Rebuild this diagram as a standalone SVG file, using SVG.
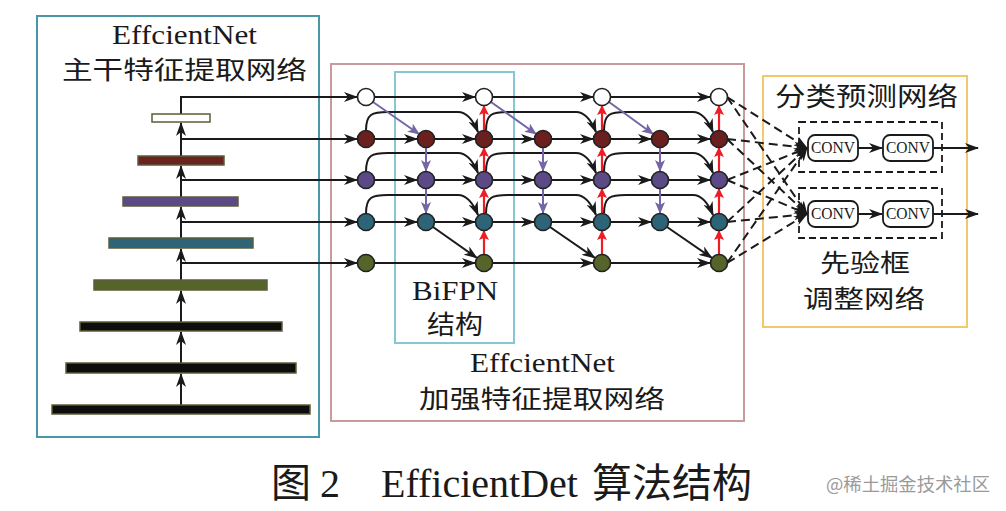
<svg xmlns="http://www.w3.org/2000/svg" width="1006" height="511" viewBox="0 0 1006 511">
<style>
.serif{font-family:"Liberation Serif","Noto Sans CJK SC",serif;fill:#1a1a1a}
.cjk{font-family:"Noto Sans CJK SC","Liberation Sans",sans-serif;fill:#1a1a1a}
.ln{fill:none;stroke:#1a1a1a;stroke-width:2}
.pl{fill:none;stroke:#7466a6;stroke-width:2}
.rl{fill:none;stroke:#ee1c24;stroke-width:2.2}
.dl{fill:none;stroke:#1a1a1a;stroke-width:2;stroke-dasharray:9,5}
.nw{fill:#fff;stroke:#222;stroke-width:1.6}
.nr{fill:#6b1f1f;stroke:#222;stroke-width:1.6}
.np{fill:#5b4a85;stroke:#222;stroke-width:1.6}
.nt{fill:#2e6477;stroke:#222;stroke-width:1.6}
.no{fill:#55652a;stroke:#222;stroke-width:1.6}
.bar{stroke:#5c5c3a;stroke-width:1.5}
</style>
<defs>
<marker id="ab" markerUnits="userSpaceOnUse" viewBox="0 0 14 10" markerWidth="14" markerHeight="10" refX="13" refY="5" orient="auto"><path d="M0,0 L14,5 L0,10 L4,5 z" fill="#1a1a1a"/></marker>
<marker id="ap" markerUnits="userSpaceOnUse" viewBox="0 0 12 10" markerWidth="12" markerHeight="10" refX="11" refY="5" orient="auto"><path d="M0,0 L12,5 L0,10 L3,5 z" fill="#7466a6"/></marker>
<marker id="ar" markerUnits="userSpaceOnUse" viewBox="0 0 10 10" markerWidth="10" markerHeight="10" refX="9" refY="5" orient="auto"><path d="M0,0 L10,5 L0,10 L2,5 z" fill="#ee1c24"/></marker>
</defs>

<!-- panels -->
<g id="backbone-panel">
<rect x="37" y="16" width="282" height="421" fill="none" stroke="#4b97aa" stroke-width="2"/>
<text class="serif" x="112" y="44" font-size="27" textLength="145" lengthAdjust="spacingAndGlyphs">EffcientNet</text>
<text class="cjk" x="62" y="79" font-size="25" textLength="245" lengthAdjust="spacingAndGlyphs">主干特征提取网络</text>
</g>
<g id="bifpn-panel">
<rect x="331" y="64" width="413" height="357" fill="none" stroke="#c99a9c" stroke-width="2"/>
<rect x="395" y="72" width="119" height="271" fill="none" stroke="#84c8d4" stroke-width="2"/>
<text class="serif" x="412" y="300" font-size="28" textLength="86" lengthAdjust="spacingAndGlyphs">BiFPN</text>
<text class="cjk" x="427" y="334" font-size="26" textLength="56" lengthAdjust="spacingAndGlyphs">结构</text>
<text class="serif" x="470" y="372" font-size="27" textLength="145" lengthAdjust="spacingAndGlyphs">EffcientNet</text>
<text class="cjk" x="419" y="408" font-size="25" textLength="246" lengthAdjust="spacingAndGlyphs">加强特征提取网络</text>
</g>
<g id="head-panel">
<rect x="763" y="76" width="204" height="251" fill="none" stroke="#f2c86e" stroke-width="2"/>
<text class="cjk" x="775" y="106" font-size="26" textLength="183" lengthAdjust="spacingAndGlyphs">分类预测网络</text>
<text class="cjk" x="820" y="272" font-size="25" textLength="90" lengthAdjust="spacingAndGlyphs">先验框</text>
<text class="cjk" x="803" y="308" font-size="25" textLength="122" lengthAdjust="spacingAndGlyphs">调整网络</text>
<rect x="799" y="122" width="143" height="50" fill="none" stroke="#1a1a1a" stroke-width="1.8" stroke-dasharray="7,4"/>
<rect x="799" y="188" width="143" height="50" fill="none" stroke="#1a1a1a" stroke-width="1.8" stroke-dasharray="7,4"/>
</g>

<!-- connectors -->
<g id="connectors">
<path class="ln" d="M181,405 L181,374" marker-end="url(#ab)"/>
<path class="ln" d="M181,363 L181,332" marker-end="url(#ab)"/>
<path class="ln" d="M181,322 L181,291" marker-end="url(#ab)"/>
<path class="ln" d="M181,280 L181,249" marker-end="url(#ab)"/>
<path class="ln" d="M181,238 L181,207" marker-end="url(#ab)"/>
<path class="ln" d="M181,197 L181,166" marker-end="url(#ab)"/>
<path class="ln" d="M181,156 L181,123" marker-end="url(#ab)"/>
<path class="ln" d="M181,114 L181,97 L357,97" marker-end="url(#ab)"/>
<path class="ln" d="M181,139 L357,139" marker-end="url(#ab)"/>
<path class="ln" d="M181,180 L357,180" marker-end="url(#ab)"/>
<path class="ln" d="M181,222 L357,222" marker-end="url(#ab)"/>
<path class="ln" d="M181,263 L357,263" marker-end="url(#ab)"/>
<path class="ln" d="M374.5,97 L475,97" marker-end="url(#ab)"/>
<path class="ln" d="M492.5,97 L593,97" marker-end="url(#ab)"/>
<path class="ln" d="M610.5,97 L710,97" marker-end="url(#ab)"/>
<path class="ln" d="M374.5,139 L417,139" marker-end="url(#ab)"/>
<path class="ln" d="M434.5,139 L475,139" marker-end="url(#ab)"/>
<path class="ln" d="M492.5,139 L534,139" marker-end="url(#ab)"/>
<path class="ln" d="M551.5,139 L593,139" marker-end="url(#ab)"/>
<path class="ln" d="M610.5,139 L651,139" marker-end="url(#ab)"/>
<path class="ln" d="M668.5,139 L710,139" marker-end="url(#ab)"/>
<path class="ln" d="M374.5,180 L417,180" marker-end="url(#ab)"/>
<path class="ln" d="M434.5,180 L475,180" marker-end="url(#ab)"/>
<path class="ln" d="M492.5,180 L534,180" marker-end="url(#ab)"/>
<path class="ln" d="M551.5,180 L593,180" marker-end="url(#ab)"/>
<path class="ln" d="M610.5,180 L651,180" marker-end="url(#ab)"/>
<path class="ln" d="M668.5,180 L710,180" marker-end="url(#ab)"/>
<path class="ln" d="M374.5,222 L417,222" marker-end="url(#ab)"/>
<path class="ln" d="M434.5,222 L475,222" marker-end="url(#ab)"/>
<path class="ln" d="M492.5,222 L534,222" marker-end="url(#ab)"/>
<path class="ln" d="M551.5,222 L593,222" marker-end="url(#ab)"/>
<path class="ln" d="M610.5,222 L651,222" marker-end="url(#ab)"/>
<path class="ln" d="M668.5,222 L710,222" marker-end="url(#ab)"/>
<path class="ln" d="M374.5,263 L475,263" marker-end="url(#ab)"/>
<path class="ln" d="M492.5,263 L593,263" marker-end="url(#ab)"/>
<path class="ln" d="M610.5,263 L710,263" marker-end="url(#ab)"/>
<path class="ln" d="M366,130.5 C366,114 372,112 388,112 L458,112 C466,112 473,120 478,132" marker-end="url(#ab)"/>
<path class="ln" d="M486,130.5 C486,114 492,112 508,112 L576,112 C584,112 591,120 596,132" marker-end="url(#ab)"/>
<path class="ln" d="M604,130.5 C604,114 610,112 626,112 L693,112 C701,112 708,120 713,132" marker-end="url(#ab)"/>
<path class="ln" d="M366,171.5 C366,155 372,153 388,153 L458,153 C466,153 473,161 478,173" marker-end="url(#ab)"/>
<path class="ln" d="M486,171.5 C486,155 492,153 508,153 L576,153 C584,153 591,161 596,173" marker-end="url(#ab)"/>
<path class="ln" d="M604,171.5 C604,155 610,153 626,153 L693,153 C701,153 708,161 713,173" marker-end="url(#ab)"/>
<path class="ln" d="M366,213.5 C366,197 372,195 388,195 L458,195 C466,195 473,203 478,215" marker-end="url(#ab)"/>
<path class="ln" d="M486,213.5 C486,197 492,195 508,195 L576,195 C584,195 591,203 596,215" marker-end="url(#ab)"/>
<path class="ln" d="M604,213.5 C604,197 610,195 626,195 L693,195 C701,195 708,203 713,215" marker-end="url(#ab)"/>
<path class="pl" d="M373,102 L419,134" marker-end="url(#ap)"/>
<path class="pl" d="M491,102 L536,134" marker-end="url(#ap)"/>
<path class="pl" d="M609,102 L653,134" marker-end="url(#ap)"/>
<path class="pl" d="M426,147.5 L426,171" marker-end="url(#ap)"/>
<path class="pl" d="M426,188.5 L426,213" marker-end="url(#ap)"/>
<path class="pl" d="M543,147.5 L543,171" marker-end="url(#ap)"/>
<path class="pl" d="M543,188.5 L543,213" marker-end="url(#ap)"/>
<path class="pl" d="M660,147.5 L660,171" marker-end="url(#ap)"/>
<path class="pl" d="M660,188.5 L660,213" marker-end="url(#ap)"/>
<path class="ln" d="M433,227 L477,258" marker-end="url(#ab)"/>
<path class="ln" d="M550,227 L595,258" marker-end="url(#ab)"/>
<path class="ln" d="M667,227 L712,258" marker-end="url(#ab)"/>
<path class="rl" d="M484,254.5 L484,231" marker-end="url(#ar)"/>
<path class="rl" d="M484,213.5 L484,189" marker-end="url(#ar)"/>
<path class="rl" d="M484,171.5 L484,148" marker-end="url(#ar)"/>
<path class="rl" d="M484,130.5 L484,106" marker-end="url(#ar)"/>
<path class="rl" d="M602,254.5 L602,231" marker-end="url(#ar)"/>
<path class="rl" d="M602,213.5 L602,189" marker-end="url(#ar)"/>
<path class="rl" d="M602,171.5 L602,148" marker-end="url(#ar)"/>
<path class="rl" d="M602,130.5 L602,106" marker-end="url(#ar)"/>
<path class="rl" d="M719,254.5 L719,231" marker-end="url(#ar)"/>
<path class="rl" d="M719,213.5 L719,189" marker-end="url(#ar)"/>
<path class="rl" d="M719,171.5 L719,148" marker-end="url(#ar)"/>
<path class="rl" d="M719,130.5 L719,106" marker-end="url(#ar)"/>
<path class="dl" d="M727,97 L807,148" marker-end="url(#ab)"/>
<path class="dl" d="M727,139 L807,148" marker-end="url(#ab)"/>
<path class="dl" d="M727,180 L807,148" marker-end="url(#ab)"/>
<path class="dl" d="M727,222 L807,148" marker-end="url(#ab)"/>
<path class="dl" d="M727,263 L807,148" marker-end="url(#ab)"/>
<path class="dl" d="M727,97 L807,214" marker-end="url(#ab)"/>
<path class="dl" d="M727,139 L807,214" marker-end="url(#ab)"/>
<path class="dl" d="M727,180 L807,214" marker-end="url(#ab)"/>
<path class="dl" d="M727,222 L807,214" marker-end="url(#ab)"/>
<path class="dl" d="M727,263 L807,214" marker-end="url(#ab)"/>
<path class="ln" d="M858,148 L882,148" marker-end="url(#ab)"/>
<path class="ln" d="M933,148 L978,148" marker-end="url(#ab)"/>
<path class="ln" d="M858,214 L882,214" marker-end="url(#ab)"/>
<path class="ln" d="M933,214 L978,214" marker-end="url(#ab)"/>
</g>

<!-- backbone bars -->
<g id="bar-p7"><rect class="bar" x="152" y="114" width="58" height="8" fill="#fff"/></g>
<g id="bar-p6"><rect class="bar" x="138" y="156" width="86" height="9" fill="#6d2222"/></g>
<g id="bar-p5"><rect class="bar" x="123" y="197" width="115" height="9" fill="#5b4a85"/></g>
<g id="bar-p4"><rect class="bar" x="109" y="238" width="144" height="10" fill="#2e6477"/></g>
<g id="bar-p3"><rect class="bar" x="94" y="280" width="173" height="10" fill="#55652a"/></g>
<g id="bar-c3"><rect class="bar" x="80" y="322" width="202" height="9" fill="#0d0d0d"/></g>
<g id="bar-c2"><rect class="bar" x="66" y="363" width="230" height="10" fill="#0d0d0d"/></g>
<g id="bar-c1"><rect class="bar" x="52" y="405" width="258" height="9" fill="#0d0d0d"/></g>

<!-- BiFPN nodes -->
<g id="n-w1"><circle class="nw" cx="366" cy="97" r="8.5"/></g>
<g id="n-r1"><circle class="nr" cx="366" cy="139" r="8.5"/></g>
<g id="n-p1"><circle class="np" cx="366" cy="180" r="8.5"/></g>
<g id="n-t1"><circle class="nt" cx="366" cy="222" r="8.5"/></g>
<g id="n-o1"><circle class="no" cx="366" cy="263" r="8.5"/></g>
<g id="n-r2"><circle class="nr" cx="426" cy="139" r="8.5"/></g>
<g id="n-p2"><circle class="np" cx="426" cy="180" r="8.5"/></g>
<g id="n-t2"><circle class="nt" cx="426" cy="222" r="8.5"/></g>
<g id="n-w3"><circle class="nw" cx="484" cy="97" r="8.5"/></g>
<g id="n-r3"><circle class="nr" cx="484" cy="139" r="8.5"/></g>
<g id="n-p3"><circle class="np" cx="484" cy="180" r="8.5"/></g>
<g id="n-t3"><circle class="nt" cx="484" cy="222" r="8.5"/></g>
<g id="n-o3"><circle class="no" cx="484" cy="263" r="8.5"/></g>
<g id="n-r4"><circle class="nr" cx="543" cy="139" r="8.5"/></g>
<g id="n-p4"><circle class="np" cx="543" cy="180" r="8.5"/></g>
<g id="n-t4"><circle class="nt" cx="543" cy="222" r="8.5"/></g>
<g id="n-w5"><circle class="nw" cx="602" cy="97" r="8.5"/></g>
<g id="n-r5"><circle class="nr" cx="602" cy="139" r="8.5"/></g>
<g id="n-p5"><circle class="np" cx="602" cy="180" r="8.5"/></g>
<g id="n-t5"><circle class="nt" cx="602" cy="222" r="8.5"/></g>
<g id="n-o5"><circle class="no" cx="602" cy="263" r="8.5"/></g>
<g id="n-r6"><circle class="nr" cx="660" cy="139" r="8.5"/></g>
<g id="n-p6"><circle class="np" cx="660" cy="180" r="8.5"/></g>
<g id="n-t6"><circle class="nt" cx="660" cy="222" r="8.5"/></g>
<g id="n-w7"><circle class="nw" cx="719" cy="97" r="8.5"/></g>
<g id="n-r7"><circle class="nr" cx="719" cy="139" r="8.5"/></g>
<g id="n-p7"><circle class="np" cx="719" cy="180" r="8.5"/></g>
<g id="n-t7"><circle class="nt" cx="719" cy="222" r="8.5"/></g>
<g id="n-o7"><circle class="no" cx="719" cy="263" r="8.5"/></g>

<!-- CONV nodes -->
<g id="conv-1a"><rect x="808" y="135" width="50" height="26" rx="7" fill="#fff" stroke="#1a1a1a" stroke-width="1.8"/><text class="serif" x="833" y="153" font-size="16" text-anchor="middle" textLength="44" lengthAdjust="spacingAndGlyphs">CONV</text></g>
<g id="conv-1b"><rect x="883" y="135" width="50" height="26" rx="7" fill="#fff" stroke="#1a1a1a" stroke-width="1.8"/><text class="serif" x="908" y="153" font-size="16" text-anchor="middle" textLength="44" lengthAdjust="spacingAndGlyphs">CONV</text></g>
<g id="conv-2a"><rect x="808" y="201" width="50" height="26" rx="7" fill="#fff" stroke="#1a1a1a" stroke-width="1.8"/><text class="serif" x="833" y="219" font-size="16" text-anchor="middle" textLength="44" lengthAdjust="spacingAndGlyphs">CONV</text></g>
<g id="conv-2b"><rect x="883" y="201" width="50" height="26" rx="7" fill="#fff" stroke="#1a1a1a" stroke-width="1.8"/><text class="serif" x="908" y="219" font-size="16" text-anchor="middle" textLength="44" lengthAdjust="spacingAndGlyphs">CONV</text></g>

<!-- caption -->
<g id="caption">
<text class="serif" y="497" font-size="40"><tspan x="271">图</tspan><tspan x="320">2</tspan><tspan x="381">EfficientDet</tspan><tspan x="592">算法结构</tspan></text>
<text x="826" y="491" font-size="18" fill="#9a9a9a" font-family="Noto Sans CJK SC, Liberation Sans, sans-serif" textLength="164" lengthAdjust="spacingAndGlyphs">@稀土掘金技术社区</text>
</g>
</svg>
